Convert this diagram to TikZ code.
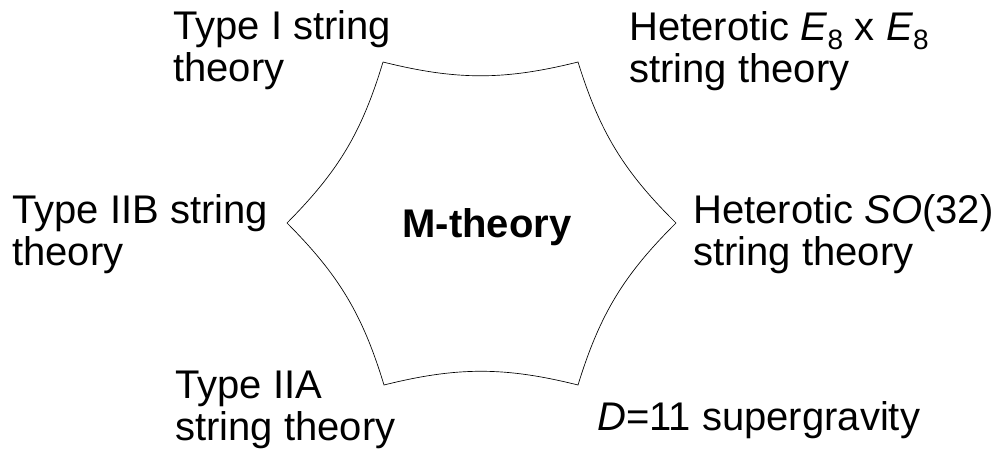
\documentclass[tikz,border=0pt]{standalone}
\usepackage{fontspec}
\setmainfont{Liberation Sans}

\tikzset{
  etiq/.style={anchor=base west, align=left, inner sep=0pt,
    font=\fontsize{30}{31.5}\selectfont},
}

\begin{document}
\begin{tikzpicture}[x=0.75pt, y=-0.75pt, line width=0.5pt]
  \useasboundingbox (0,0) rectangle (1008,453);
  % estrella (vertices del hexagono, lados concavos)
  \coordinate (v1) at (383,62);
  \coordinate (v2) at (578,62);
  \coordinate (v3) at (676,223);
  \coordinate (v4) at (578,385);
  \coordinate (v5) at (384,385);
  \coordinate (v6) at (287,223);
  \draw (v1) to[bend right=14] (v2) to[bend right=14] (v3)
    to[bend right=14] (v4) to[bend right=14] (v5)
    to[bend right=14] (v6) to[bend right=14] (v1);
  \node[etiq, anchor=base, font=\fontsize{30}{31.5}\selectfont\bfseries] (m) at (487,237) {M-theory};
  % teorias alrededor (base = linea de abajo)
  \node[etiq] (tI) at (173,82) {Type I string\\theory};
  \node[etiq] (het8) at (629,83) {Heterotic \textit{E}\textsubscript{8} x \textit{E}\textsubscript{8}\\string theory};
  \node[etiq] (tIIB) at (12,265) {Type IIB string\\theory};
  \node[etiq] (hetSO) at (693,265) {Heterotic \textit{SO}(32)\\string theory};
  \node[etiq] (tIIA) at (175,440) {Type IIA\\string theory};
  \node[etiq] (sugra) at (597,430) {\textit{D}=11 supergravity};
\end{tikzpicture}
\end{document}
